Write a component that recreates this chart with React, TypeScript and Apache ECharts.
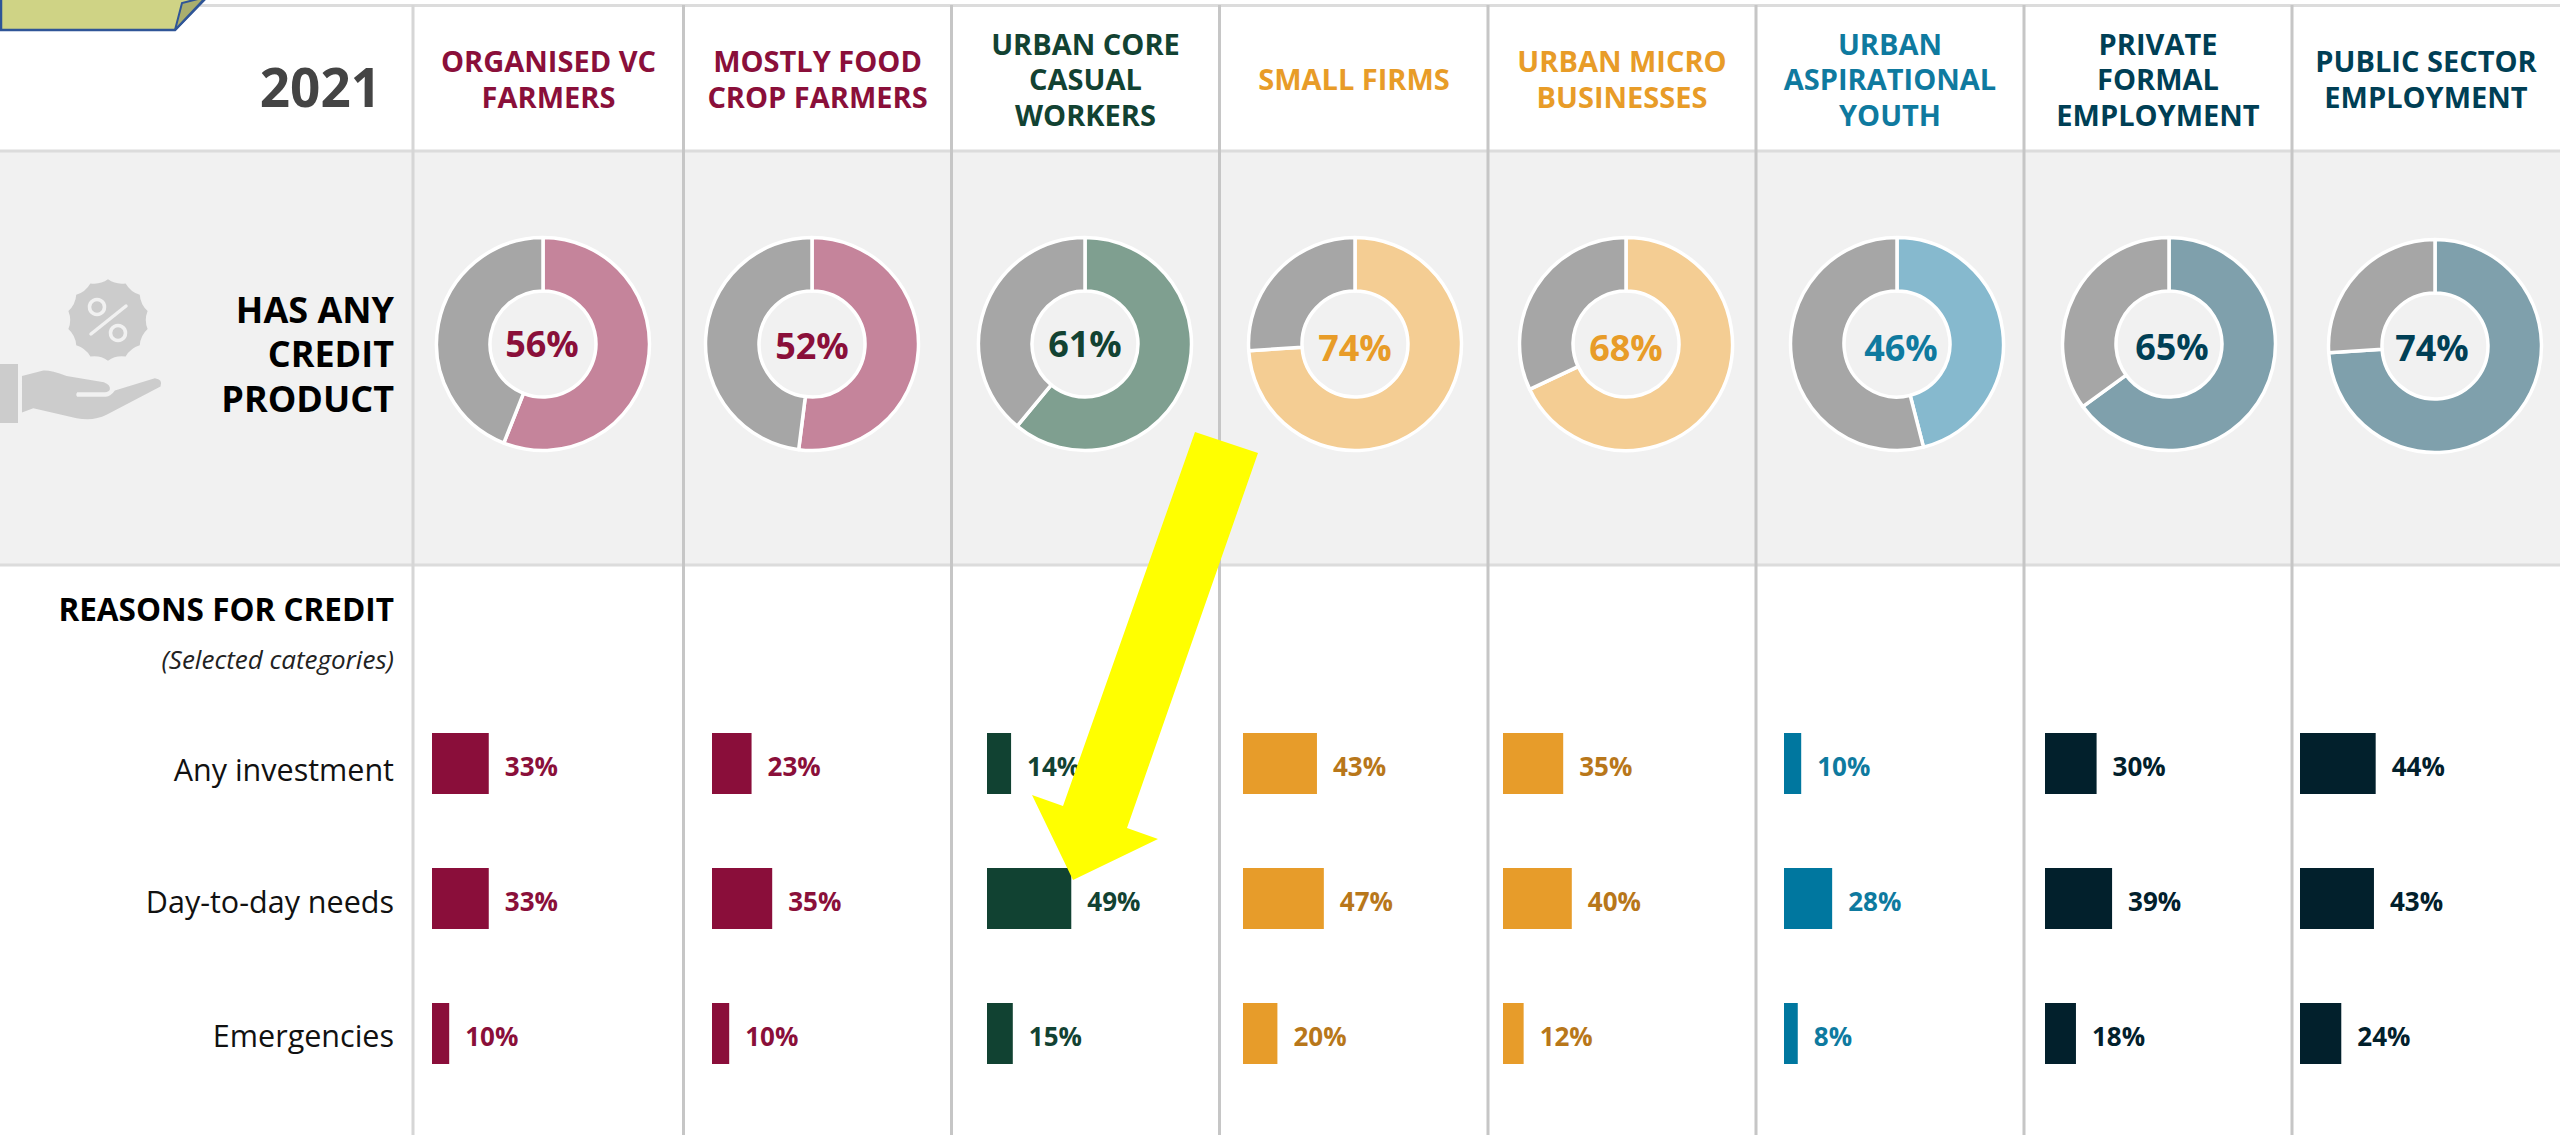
import React, { useEffect, useRef } from "react";
import * as echarts from "echarts";

const segments = [
  ["ORGANISED VC", "FARMERS"],
  ["MOSTLY FOOD", "CROP FARMERS"],
  ["URBAN CORE", "CASUAL", "WORKERS"],
  ["SMALL FIRMS"],
  ["URBAN MICRO", "BUSINESSES"],
  ["URBAN", "ASPIRATIONAL", "YOUTH"],
  ["PRIVATE", "FORMAL", "EMPLOYMENT"],
  ["PUBLIC SECTOR", "EMPLOYMENT"],
];
const reasons = ["Any investment", "Day-to-day needs", "Emergencies"];
const hasCredit = [56, 52, 61, 74, 68, 46, 65, 74];
const anyInvestment = [33, 23, 14, 43, 35, 10, 30, 44];
const dayToDay = [33, 35, 49, 47, 40, 28, 39, 43];
const emergencies = [10, 10, 15, 20, 12, 8, 18, 24];

// styles
const headColor = ["#8A0F3A", "#8A0F3A", "#124232", "#E89C28", "#E89C28", "#0F7A9F", "#003F55", "#003F55"];
const barColor = ["#8A0E3A", "#8A0E3A", "#114232", "#E79C2A", "#E79C2A", "#00779F", "#02202C", "#02202C"];
const valueColor = ["#8A0F3A", "#8A0F3A", "#124232", "#B8771A", "#B8771A", "#0E7A9F", "#02202C", "#02202C"];
const donutColor = ["#C5849B", "#C5849B", "#7F9F90", "#F4CD93", "#F4CD93", "#86B9CE", "#7FA0AC", "#7FA0AC"];
const GREY = "#A6A6A6";
const FONT = "'Open Sans', 'Noto Sans', sans-serif";

// layout
const W = 2560;
const H = 1135;
const vLines = [413, 683.5, 951.5, 1219.5, 1488, 1756, 2024, 2292];
const colCentre = [548.5, 817.5, 1085.5, 1354, 1622, 1890, 2158, 2426];
const donutX = [543, 812, 1085, 1355, 1626, 1897, 2169, 2435];
const donutY = [344, 344, 344, 344, 344, 344, 344, 346];
const donutTextX = [542, 812, 1085, 1355, 1626, 1901, 2172, 2432];
const donutTextY = [343, 345, 343, 347.5, 347.5, 347.5, 346, 347.5];
const barLeft = [432, 712, 987, 1243, 1503, 1784, 2045, 2300];
const rowLabelPad = [10, 5, 2];

const badgePath = (() => {
  const n = 14;
  const R = 122;
  const r = 108;
  let d = "";
  for (let i = 0; i < n; i++) {
    const a0 = (i / n) * Math.PI * 2 - Math.PI / 2;
    const a1 = ((i + 0.5) / n) * Math.PI * 2 - Math.PI / 2;
    const a2 = ((i + 1) / n) * Math.PI * 2 - Math.PI / 2;
    if (i === 0) d += `M${R * Math.cos(a0)},${R * Math.sin(a0)}`;
    d += `Q${r * Math.cos(a1)},${r * Math.sin(a1)} ${R * Math.cos(a2)},${R * Math.sin(a2)}`;
  }
  return d + "Z";
})();

echarts.graphic.registerShape("creditBadge", echarts.graphic.extendPath(badgePath, {}) as any);
echarts.graphic.registerShape(
  "creditHand",
  echarts.graphic.extendPath(
    "M66,318 L130,302 Q150,300 200,318 L312,337 Q332,345 330,358 Q328,366 315,367 L232,367 Q226,374 232,381 L318,381 Q332,380 345,362 L465,325 Q490,328 482,350 L320,435 Q280,455 230,445 L100,415 L66,428 Z",
    {}
  ) as any
);

const txt = (
  text: string,
  x: number,
  y: number,
  size: number,
  color: string,
  weight: number | string,
  align: string,
  extra: any = {},
  z = 5
) => ({
  type: "text",
  x,
  y,
  z,
  silent: true,
  style: {
    text,
    fontSize: size,
    fontWeight: weight,
    fontFamily: FONT,
    fill: color,
    align,
    verticalAlign: "middle",
    ...extra,
  },
});

const line = (x1: number, y1: number, x2: number, y2: number, stroke: string, lineWidth: number, z = 1) => ({
  type: "line",
  z,
  silent: true,
  shape: { x1, y1, x2, y2 },
  style: { stroke, lineWidth },
});

export default function App() {
  const ref = useRef<HTMLDivElement>(null);

  useEffect(() => {
    document.body.style.margin = "0";
    document.body.style.overflow = "hidden";
    const chart = echarts.init(ref.current!, undefined, { renderer: "svg" });

    const graphic: any[] = [
      { type: "rect", z: 0, silent: true, shape: { x: 0, y: 151, width: W, height: 414 }, style: { fill: "#F1F1F1" } },
      line(200, 5.5, W, 5.5, "#DCDCDC", 3),
      line(0, 151, W, 151, "#DCDCDC", 3),
      line(0, 565, W, 565, "#DCDCDC", 3),
      ...vLines.map((x, i) => line(x, 5, x, H, i === 0 ? "#D6D6D6" : "#C6C6C6", 3)),
      // tab in the corner
      {
        type: "polygon",
        z: 3,
        silent: true,
        shape: { points: [[1, -3], [207, -3], [175, 30], [1, 30]] },
        style: { fill: "#CFD385", stroke: "#2F5597", lineWidth: 2.5 },
      },
      {
        type: "polygon",
        z: 4,
        silent: true,
        shape: { points: [[175, 30], [182, 3], [198, -1], [206, -3]] },
        style: { fill: "#A9AE6D", stroke: "#2F5597", lineWidth: 2 },
      },
      // icon
      { type: "rect", z: 2, silent: true, shape: { x: 0, y: 364, width: 18, height: 59 }, style: { fill: "#CCCCCC" } },
      { type: "creditHand", z: 2, silent: true, x: 0, y: 270, scaleX: 1 / 3, scaleY: 1 / 3, style: { fill: "#CCCCCC" } },
      { type: "creditBadge", z: 2, silent: true, x: 108, y: 320, scaleX: 1 / 3, scaleY: 1 / 3, style: { fill: "#CCCCCC" } },
      { type: "circle", z: 3, silent: true, shape: { cx: 97, cy: 307, r: 7.5 }, style: { fill: "none", stroke: "#F1F1F1", lineWidth: 3.5 } },
      { type: "circle", z: 3, silent: true, shape: { cx: 118, cy: 333, r: 7.5 }, style: { fill: "none", stroke: "#F1F1F1", lineWidth: 3.5 } },
      {
        type: "line",
        z: 3,
        silent: true,
        shape: { x1: 91, y1: 334, x2: 126, y2: 306 },
        style: { stroke: "#F1F1F1", lineWidth: 3.5, lineCap: "round" },
      },
      // left texts
      txt("2021", 381, 86, 53, "#444444", 700, "right"),
      txt("HAS ANY", 394, 309, 36, "#000000", 700, "right"),
      txt("CREDIT", 394, 353.5, 36, "#000000", 700, "right"),
      txt("PRODUCT", 394, 398, 36, "#000000", 700, "right"),
      txt("REASONS FOR CREDIT", 394, 608, 31.5, "#000000", 700, "right"),
      txt("(Selected categories)", 394, 659, 26, "#222222", 400, "right", { fontStyle: "italic" }),
      // headers
      ...segments.flatMap((lines, i) =>
        lines.map((t, j) =>
          txt(t, colCentre[i], 78.5 + (j - (lines.length - 1) / 2) * 35.5, 29, headColor[i], 700, "center")
        )
      ),
      // donut centres
      ...hasCredit.map((v, i) => txt(`${v}%`, donutTextX[i], donutTextY[i], 36, headColor[i], 700, "center", {}, 10)),
      // arrow
      {
        type: "polygon",
        z: 100,
        silent: true,
        shape: {
          points: [
            [1195, 432],
            [1258, 453],
            [1127, 828],
            [1158, 839],
            [1073, 880],
            [1032, 795],
            [1063, 806],
          ],
        },
        style: { fill: "#FFFF00" },
      },
    ];

    const grids = barLeft.map((left) => ({ left, width: 172, top: 696, height: 405 }));
    const xAxes = barLeft.map((_, i) => ({ type: "value", gridIndex: i, min: 0, max: 100, show: false }));
    const labelStyle = { fontSize: 30.5, fontFamily: FONT, color: "#111111" };
    const yAxes = barLeft.map((_, i) => ({
      type: "category",
      gridIndex: i,
      inverse: true,
      data: reasons,
      axisLine: { show: false },
      axisTick: { show: false },
      splitLine: { show: false },
      axisLabel: {
        show: i === 0,
        margin: 38,
        ...labelStyle,
        formatter: (v: string, idx: number) => `{r${idx}|${v}}`,
        rich: Object.fromEntries(
          rowLabelPad.map((p, k) => [`r${k}`, { ...labelStyle, padding: [p, 0, 0, 0] }])
        ),
      },
    }));

    const barSeries = barLeft.map((_, i) => ({
      type: "bar",
      xAxisIndex: i,
      yAxisIndex: i,
      barWidth: 61,
      silent: true,
      data: [anyInvestment[i], dayToDay[i], emergencies[i]],
      itemStyle: { color: barColor[i] },
      label: {
        show: true,
        position: "right",
        distance: 16,
        formatter: "{c}%",
        fontFamily: FONT,
        fontSize: 26,
        fontWeight: 700,
        color: valueColor[i],
        offset: [0, 2],
      },
    }));

    const pieSeries = hasCredit.map((v, i) => ({
      type: "pie",
      center: [donutX[i], donutY[i]],
      radius: [53, 106.5],
      startAngle: 90,
      clockwise: true,
      silent: true,
      label: { show: false },
      labelLine: { show: false },
      itemStyle: { borderColor: "#FFFFFF", borderWidth: 3.5 },
      data: [
        { value: v, name: "Has credit", itemStyle: { color: donutColor[i] } },
        { value: 100 - v, name: "No credit", itemStyle: { color: GREY } },
      ],
    }));

    chart.setOption({
      animation: false,
      backgroundColor: "#FFFFFF",
      tooltip: { show: false },
      legend: { show: false },
      grid: grids,
      xAxis: xAxes,
      yAxis: yAxes,
      series: [...pieSeries, ...barSeries],
      graphic: { elements: graphic },
    });

    return () => chart.dispose();
  }, []);

  return <div ref={ref} style={{ width: W, height: H }} />;
}
